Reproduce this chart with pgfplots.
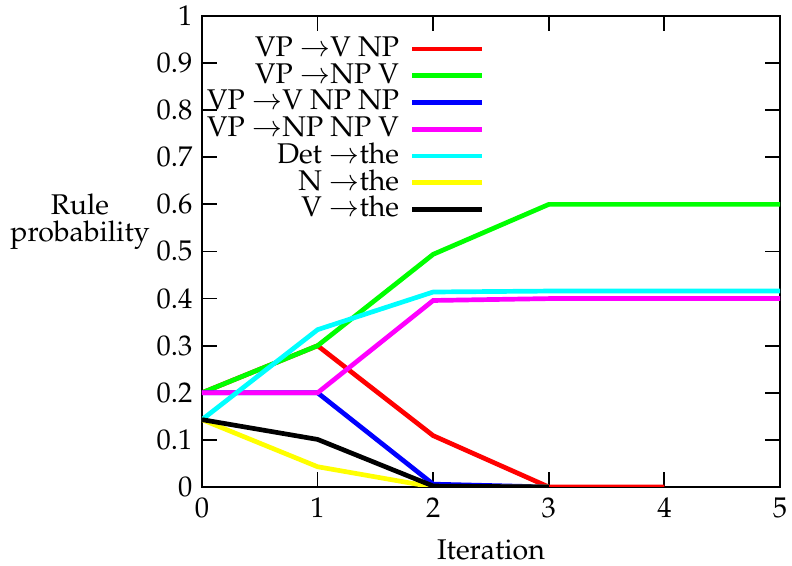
\documentclass[border=0pt]{standalone}
\usepackage[T1]{fontenc}
\usepackage{mathpazo}
\usepackage{pgfplots}
\pgfplotsset{compat=1.18}

\definecolor{gred}{RGB}{255,0,0}
\definecolor{ggreen}{RGB}{0,255,0}
\definecolor{gblue}{RGB}{0,0,255}
\definecolor{gmagenta}{RGB}{255,0,255}
\definecolor{gcyan}{RGB}{0,255,255}
\definecolor{gyellow}{RGB}{255,255,0}
\newcommand{\bigf}{\fontsize{28.5}{27}\selectfont}

\begin{document}
\bigf
\begin{tikzpicture}
\begin{axis}[
  name=ax,
  scale only axis,
  width=578pt, height=471pt,
  xmin=0, xmax=5, ymin=0, ymax=1,
  xtick={0,1,2,3,4,5},
  ytick={0,0.1,...,1},
  yticklabel style={/pgf/number format/fixed},
  tick align=inside,
  major tick length=15pt,
  axis line style={line width=1.8pt},
  every tick/.style={black, line width=1.8pt},
  tick label style={font=\bigf},
  xticklabel style={yshift=-1pt},
  xlabel={Iteration},
  ylabel={Rule\\probability},
  label style={font=\bigf},
  ylabel style={rotate=-90, align=center, at={(rel axis cs:-0.211,0.563)}, anchor=center},
  xlabel style={at={(rel axis cs:0.5,-0.134)}, anchor=center},
  every axis plot/.append style={line width=4.7pt, line join=miter},
  legend plot pos=right,
  legend cell align=right,
  legend style={draw=none, fill=none, font=\bigf,
    at={(rel axis cs:0.4896,0.958)}, anchor=north east, row sep=0.5pt,
    column sep=11pt, inner sep=0pt,
    nodes={inner sep=0pt, text height=0.72em, text depth=0.2em}},
  legend image code/.code={\draw[#1] (0pt,0pt) -- (70pt,0pt);},
]
\addplot[gred] coordinates {(0,0.2) (1,0.3) (2,0.109) (3,0) (4,0)};
\addlegendentry{VP $\rightarrow$V NP}
\addplot[ggreen] coordinates {(0,0.2) (1,0.3) (2,0.494) (3,0.6) (4,0.6) (5,0.6)};
\addlegendentry{VP $\rightarrow$NP V}
\addplot[gblue] coordinates {(0,0.2) (1,0.2) (2,0.006) (3,0)};
\addlegendentry{VP $\rightarrow$V NP NP}
\addplot[gmagenta] coordinates {(0,0.2) (1,0.2) (2,0.396) (3,0.4) (4,0.4) (5,0.4)};
\addlegendentry{VP $\rightarrow$NP NP V}
\addplot[gcyan] coordinates {(0,0.143) (1,0.334) (2,0.414) (3,0.416) (4,0.416) (5,0.416)};
\addlegendentry{Det $\rightarrow$the}
\addplot[gyellow] coordinates {(0,0.143) (1,0.043) (2,0) (3,0)};
\addlegendentry{N $\rightarrow$the}
\addplot[black] coordinates {(0,0.143) (1,0.101) (2,0.002) (3,0)};
\addlegendentry{V $\rightarrow$the}
\end{axis}
\pgfresetboundingbox
\path ([xshift=-202pt,yshift=-79pt]ax.south west) rectangle ([xshift=12pt,yshift=16pt]ax.north east);
\end{tikzpicture}
\end{document}
